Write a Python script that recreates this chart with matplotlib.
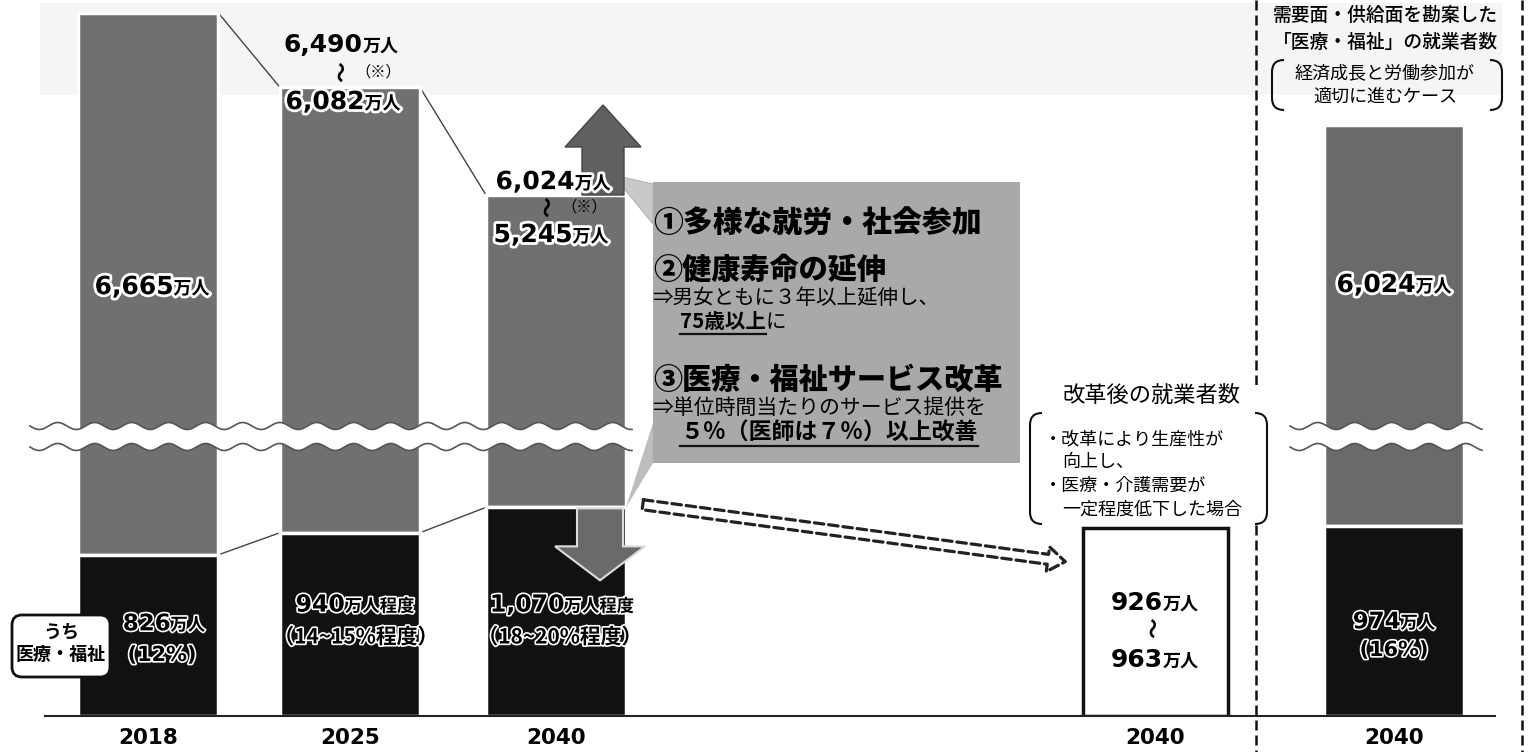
import numpy as np
import matplotlib
matplotlib.use('Agg')
import matplotlib.pyplot as plt
from matplotlib import patches, patheffects
from matplotlib.path import Path
from matplotlib.transforms import Affine2D, offset_copy

plt.rcParams['font.family'] = ['Noto Sans CJK JP', 'DejaVu Sans']

# 就業者数（万人）
years = ['2018', '2025', '2040', '2040', '2040']
total_low = [6665, 6082, 5245]
total_high = [None, 6490, 6024]
medical = [826, 940, 1070]
medical_share = ['(12%)', '（14~15%程度）', '（18~20%程度）']
medical_label = ['826', '940', '1,070']
reform_range = [926, 963]
balanced_total = 6024
balanced_medical = 974
balanced_share = '(16%)'

xpos = [148, 350, 556, 1155, 1394]
bw = 140

W, H = 1529, 752
BASE = 716
GRAY = '#707070'

fig = plt.figure(figsize=(W / 100, H / 100), dpi=100)
rect = [0, (H - BASE) / H, 1, BASE / H]
ax = fig.add_axes(rect)
axr = fig.add_axes(rect)   # right panel, own (schematic) scale
# pixel coords (origin top-left) for decorations
P = Affine2D().scale(1 / W, -1 / H).translate(0, 1) + fig.transFigure
R = fig.canvas.get_renderer()

# broken y scale: lower part linear, upper part compressed
LOW, BRK, MID_END = 0.195, 1330, 5000
UP0, UPS = 5245, 0.1285


def make_scale(uppx):
    kv = np.array([-1e4, 0, BRK, MID_END, 2e4])
    kp = np.array([-1e4 * LOW, 0, BRK * LOW, uppx + (MID_END - UP0) * UPS, uppx + (2e4 - UP0) * UPS])
    return (lambda v: np.interp(v, kv, kp)), (lambda p: np.interp(p, kp, kv))


fwd, inv = make_scale(521)
fwd_r, inv_r = make_scale(491)
ax.set_yscale('function', functions=(fwd, inv))
axr.set_yscale('function', functions=(fwd_r, inv_r))

# faint header box (scan)
ax.add_patch(patches.Rectangle((40, 3), 1462, 92, transform=P, fc='#f5f5f5', ec='none', zorder=0))

# bars
main_x = xpos[:3]
ax.bar(main_x, np.array(total_low) - np.array(medical), bottom=medical, width=bw,
       color=GRAY, edgecolor='white', lw=2.5, zorder=2)
ax.bar(main_x, medical, width=bw, color='#111111', edgecolor='white', lw=2.5, zorder=3)
ax.bar(xpos[3], reform_range[1], width=145, facecolor='white', edgecolor='#111111', lw=2.5, zorder=5)
axr.bar(xpos[4], balanced_total - balanced_medical, bottom=balanced_medical, width=bw,
        color='#6a6a6a', edgecolor='white', lw=2.5, zorder=2)
axr.bar(xpos[4], balanced_medical, width=bw, color='#111111', edgecolor='white', lw=2.5, zorder=3)

# connecting lines
for i in range(2):
    xa, xb = main_x[i] + bw / 2, main_x[i + 1] - bw / 2
    ax.plot([xa, xb], [total_low[i], total_low[i + 1]], color='#444444', lw=1, zorder=1)
    ax.plot([xa, xb], [medical[i], medical[i + 1]], color='#444444', lw=1, zorder=1)

# wave break
for a, (x0, x1) in [(ax, (30, 632)), (axr, (1290, 1482))]:
    xs = np.linspace(x0, x1, 400)
    yt = 426 + 3.5 * np.sin(2 * np.pi * (xs - x0) / 37)
    yb = 447 + 3.5 * np.sin(2 * np.pi * (xs - x0) / 37)
    poly = np.column_stack([np.r_[xs, xs[::-1]], np.r_[yt, yb[::-1]]])
    a.add_patch(patches.Polygon(poly, closed=True, fc='white', ec='none', transform=P, zorder=5))
    a.plot(xs, yt, color='#555555', lw=1.2, transform=P, zorder=6)
    a.plot(xs, yb, color='#555555', lw=1.2, transform=P, zorder=6)

# baseline and dashed separators
axr.plot([45, 1495], [BASE, BASE], color='#222222', lw=1.5, transform=P, zorder=7, clip_on=False)
for xd in [1256, 1522]:
    ax.plot([xd, xd], [0, H], color='#111111', lw=1.8, ls=(0, (4, 2)), transform=P, zorder=3, clip_on=False)

# arrows up / down, anchored on the 2040 bar
y_top40 = BASE - fwd(total_low[2])
y_med40 = BASE - fwd(medical[2])
ax.add_patch(patches.FancyArrow(603, y_top40, 0, -90, width=42, head_width=76, head_length=42,
                                length_includes_head=True, transform=P, fc='#606060', ec='#444444', lw=1, zorder=6))
ax.add_patch(patches.FancyArrow(600, y_med40 + 1, 0, 72, width=46, head_width=90, head_length=34,
                                length_includes_head=True, transform=P, fc='#6a6a6a', ec='#dddddd', lw=1.5, zorder=6))

# callout box
ax.add_patch(patches.Rectangle((653, 182), 367, 281, transform=P, fc='#a9a9a9', ec='none', zorder=4))
ax.add_patch(patches.Polygon([(613, 175), (653, 184), (653, 224)], transform=P, fc='#c9c9c9', ec='#b5b5b5', lw=0.8, zorder=4))
ax.add_patch(patches.Polygon([(653, 423), (653, 463), (626, y_med40)], transform=P, fc='#bdbdbd', ec='none', zorder=4))

# dashed hollow arrow
ax.add_patch(patches.FancyArrowPatch((640, y_med40 - 3), (1068, 562), transform=P,
                                     arrowstyle='simple,head_length=0.7,head_width=1.0,tail_width=0.4',
                                     mutation_scale=18, fc='white', ec='#222222', lw=2.3, ls=(0, (3, 1.5)), zorder=5))


def bracket(x0, x1, y0, y1, r=12, lw=1.5):
    codes = [Path.MOVETO, Path.CURVE3, Path.CURVE3, Path.LINETO, Path.CURVE3, Path.CURVE3]
    left = [(x0 + r, y0), (x0, y0), (x0, y0 + r), (x0, y1 - r), (x0, y1), (x0 + r, y1)]
    right = [(x1 - r, y0), (x1, y0), (x1, y0 + r), (x1, y1 - r), (x1, y1), (x1 - r, y1)]
    for v in (left, right):
        axr.add_patch(patches.PathPatch(Path(v, codes), transform=P, fc='none', ec='#111111', lw=lw, zorder=8, clip_on=False))


def txt(x, y, s, size, weight='normal', ha='center', color='black', pe=None, a=ax, **kw):
    t = a.text(x, y, s, fontsize=size, fontweight=weight, ha=ha, va='center', color=color,
               transform=P, zorder=9, clip_on=False, **kw)
    if pe is not None:
        t.set_path_effects(pe)
    return t


HALO = [patheffects.withStroke(linewidth=4, foreground='white')]
OUTLINE = [patheffects.withStroke(linewidth=2.4, foreground='white')]


def num_unit(x, y, num, unit, ns, us, pe=None, a=ax):
    t1 = a.text(x, y, num, fontsize=ns, fontweight='bold', family=['DejaVu Sans'],
                ha='left', va='baseline', zorder=9, clip_on=False)
    t2 = a.text(x, y, unit, fontsize=us, fontweight='bold', family=['Noto Sans CJK JP'],
                ha='left', va='baseline', zorder=9, clip_on=False)
    w1 = t1.get_window_extent(R).width
    w2 = t2.get_window_extent(R).width
    tot = w1 + w2
    t1.set_transform(offset_copy(P, fig=fig, x=-tot / 2, y=-0.506 * ns, units='dots'))
    t2.set_transform(offset_copy(P, fig=fig, x=-tot / 2 + w1, y=-0.506 * ns, units='dots'))
    if pe is not None:
        t1.set_path_effects(pe)
        t2.set_path_effects(pe)


def fmt(v):
    return f'{v:,}'


# totals
num_unit(152, 285, fmt(total_low[0]), '万人', 18, 13, HALO)
num_unit(341, 43, fmt(total_high[1]), '万人', 18, 13)
txt(343, 72, '〜', 15, 'bold', rotation=90)
txt(378, 72, '（※）', 11)
num_unit(343, 100, fmt(total_low[1]), '万人', 18, 13, HALO)
num_unit(553, 180, fmt(total_high[2]), '万人', 18, 13, HALO)
txt(549, 207, '〜', 15, 'bold', rotation=90)
txt(584, 207, '（※）', 11)
num_unit(551, 233, fmt(total_low[2]), '万人', 18, 13, HALO)
num_unit(1394, 283, fmt(balanced_total), '万人', 18, 13, HALO, a=axr)

# medical / welfare
num_unit(164, 622, medical_label[0], '万人', 16.5, 12.5, OUTLINE)
txt(162, 655, medical_share[0], 15, 'bold', pe=OUTLINE, family=['DejaVu Sans'])
num_unit(355, 603, medical_label[1], '万人程度', 17, 12.5, OUTLINE)
txt(356, 637, medical_share[1], 15, 'bold', pe=OUTLINE)
num_unit(562, 603, medical_label[2], '万人程度', 17, 12.5, OUTLINE)
txt(560, 637, medical_share[2], 15, 'bold', pe=OUTLINE)
num_unit(1394, 620, fmt(balanced_medical), '万人', 16.5, 12.5, OUTLINE, a=axr)
txt(1394, 650, balanced_share, 15, 'bold', pe=OUTLINE, family=['DejaVu Sans'], a=axr)

num_unit(1155, 601, fmt(reform_range[0]), '万人', 18, 13)
txt(1155, 628, '〜', 15, 'bold', rotation=90)
num_unit(1155, 658, fmt(reform_range[1]), '万人', 18, 13)

# うち 医療・福祉 box
ax.add_patch(patches.FancyBboxPatch((12, 615), 98, 62, boxstyle='round,pad=0,rounding_size=10',
                                    transform=P, fc='white', ec='#111111', lw=2, zorder=8))
txt(61, 632, 'うち', 13, 'bold')
txt(61, 655, '医療・福祉', 13, 'bold')


# callout text
def underline(t, lw=1.6):
    bb = t.get_window_extent(R)
    yb = H - bb.y0 + 1
    ax.plot([bb.x0, bb.x1], [yb, yb], color='#111111', lw=lw, transform=P, zorder=9)


txt(653, 222, '①多様な就労・社会参加', 21.5, 'heavy', ha='left')
txt(653, 270, '②健康寿命の延伸', 21, 'heavy', ha='left')
txt(652, 298, '⇒男女ともに３年以上延伸し、', 14.8, ha='left')
t = txt(680, 322, '75歳以上', 14.8, 'bold', ha='left')
underline(t)
bb = t.get_window_extent(R)
txt(bb.x1, 322, 'に', 14.8, ha='left')
txt(653, 380, '③医療・福祉サービス改革', 21, 'heavy', ha='left')
txt(652, 408, '⇒単位時間当たりのサービス提供を', 15, ha='left')
t = txt(829, 433, '５％（医師は７％）以上改善', 16.5, 'bold')
underline(t)

# right side notes
ax.add_patch(patches.Rectangle((1240, 385), 30, 140, transform=P, fc='white', ec='none', zorder=4))
txt(1152, 395, '改革後の就業者数', 16)
bracket(1030, 1267, 413, 524)
txt(1044, 439, '・改革により生産性が', 13, ha='left')
txt(1062, 462, '向上し、', 13, ha='left')
txt(1044, 486, '・医療・介護需要が', 13, ha='left')
txt(1062, 510, '一定程度低下した場合', 13, ha='left')

txt(1385, 15, '需要面・供給面を勘案した', 13.5, 'medium', a=axr)
txt(1385, 42, '「医療・福祉」の就業者数', 13.5, 'medium', a=axr)
bracket(1272, 1502, 60, 110)
txt(1385, 73, '経済成長と労働参加が', 13, a=axr)
txt(1385, 97, '適切に進むケース', 13, a=axr)

# axes
ax.set_xticks(xpos)
ax.set_xticklabels(years, fontsize=15.5, fontweight='bold', family=['DejaVu Sans'])
ax.tick_params(axis='x', length=0, pad=9)
for a in (ax, axr):
    a.set_yticks([])
    for s in a.spines.values():
        s.set_visible(False)
    a.patch.set_alpha(0)
    a.set_xlim(0, W)
axr.set_xticks([])
ax.set_ylim(0, inv(BASE))
axr.set_ylim(0, inv_r(BASE))

fig.savefig('out.png', dpi=100, facecolor='white')
